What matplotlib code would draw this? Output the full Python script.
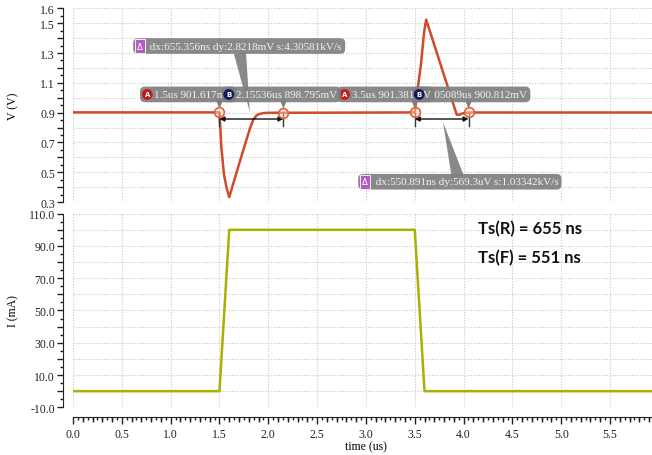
import matplotlib.pyplot as plt
import matplotlib
import numpy as np
from matplotlib.ticker import MultipleLocator, FuncFormatter

matplotlib.rcParams['font.family'] = 'Liberation Serif'
matplotlib.rcParams['font.size'] = 8.5

# voltage waveform, time in us, value in V
v_time = [0.0, 1.5, 1.51, 1.52, 1.547, 1.575, 1.60, 1.71, 1.81, 1.847, 1.875, 1.90, 1.95, 2.0, 2.155,
          3.5, 3.53, 3.562, 3.596, 3.617, 3.93, 3.96, 3.99, 4.05, 5.93]
v_volts = [0.9016, 0.9016, 0.78, 0.66, 0.48, 0.39, 0.333, 0.575, 0.79, 0.853, 0.878, 0.889, 0.897, 0.899, 0.8988,
           0.9014, 1.06, 1.215, 1.44, 1.524, 0.886, 0.886, 0.895, 0.9008, 0.9008]

# current waveform, time in us, value in mA
i_time = [0.0, 1.5, 1.6, 3.5, 3.6, 5.93]
i_ma = [0, 0, 100, 100, 0, 0]

# cursors
mark_time = [1.5, 2.15536, 3.5, 4.05089]
mark_volts = [0.901617, 0.898795, 0.901381, 0.900812]
mark_text = ['1.5us 901.617mV', '2.15536us 898.795mV', '3.5us 901.381mV', '4.05089us 900.812mV']
mark_icon = ['A', 'B', 'A', 'B']
delta_text = ['dx:655.356ns dy:2.8218mV s:4.30581kV/s', 'dx:550.891ns dy:569.3uV s:1.03342kV/s']
ts_text = ['Ts(R) = 655 ns', 'Ts(F) = 551 ns']

v_color = '#cf4b2c'
i_color = '#a8b000'
box_gray = '#7f7f7f'
grid_kw = dict(color='#c8c8c8', linestyle=(0, (1, 1.5)), linewidth=0.8)
off = 7  # spine offset in points

fig = plt.figure(figsize=(6.52, 4.56), dpi=100)
ax1 = fig.add_axes([0.112, 0.5548, 0.888, 0.4248])
ax2 = fig.add_axes([0.112, 0.1046, 0.888, 0.4246])

for ax in (ax1, ax2):
    for s in ('top', 'right'):
        ax.spines[s].set_visible(False)
    ax.spines['left'].set_position(('outward', off))
    ax.spines['left'].set_color('#222')
    ax.set_xlim(0, 5.93)
    ax.xaxis.set_major_locator(MultipleLocator(0.5))
    ax.xaxis.set_minor_locator(MultipleLocator(0.05))
    ax.grid(True, which='major', **grid_kw)
    ax.tick_params(axis='y', which='major', length=4, width=1, pad=2, colors='#222')
    ax.tick_params(axis='y', which='minor', length=2, width=1, colors='#222')
    ax.yaxis.set_label_coords(-0.092, 0.5)
    ax.set_axisbelow(True)

# top panel: voltage
ax1.plot(v_time, v_volts, color=v_color, lw=1.8, zorder=3)
ax1.set_ylim(0.3, 1.6)
ax1.yaxis.set_major_locator(MultipleLocator(0.1))
ax1.yaxis.set_minor_locator(MultipleLocator(0.05))
ax1.yaxis.set_major_formatter(FuncFormatter(
    lambda v, p: f'{v:.1f}' if round(v * 10) in (3, 5, 7, 9, 11, 13, 15, 16) else ''))
ax1.spines['bottom'].set_visible(False)
ax1.tick_params(axis='x', which='both', length=0, labelbottom=False)
ax1.set_ylabel('V (V)')

# bottom panel: current
ax2.plot(i_time, i_ma, color=i_color, lw=1.8, zorder=3)
ax2.set_ylim(-10, 110)
ax2.yaxis.set_major_locator(MultipleLocator(10))
ax2.yaxis.set_minor_locator(MultipleLocator(5))
ax2.yaxis.set_major_formatter(FuncFormatter(
    lambda v, p: f'{v:.1f}' if round(v) % 20 != 0 else ''))
ax2.spines['bottom'].set_position(('outward', off))
ax2.spines['bottom'].set_color('#222')
ax2.tick_params(axis='x', which='major', length=5, width=1, pad=3, colors='#222')
ax2.tick_params(axis='x', which='minor', length=2.2, width=1, colors='#222')
ax2.xaxis.set_major_formatter(FuncFormatter(lambda v, p: f'{v:.1f}'))
ax2.set_ylabel('I (mA)')
ax2.set_xlabel('time (us)')
ax2.xaxis.set_label_coords(0.506, -0.172)

# medium ticks every 0.1 us
ax_h = ax2.get_position().height * fig.get_figheight() * 72
for t in np.arange(0.1, 5.93, 0.1):
    if abs(t / 0.5 - round(t / 0.5)) < 1e-6:
        continue
    ax2.plot([t, t], [-off / ax_h, -(off + 3.6) / ax_h], color='#222', lw=1,
             transform=ax2.get_xaxis_transform(), clip_on=False, solid_capstyle='butt')

for k, txt in enumerate(ts_text):
    ax2.text(4.15, 101 - 18 * k, txt, family='Lato', weight='bold', fontsize=12,
             va='center', ha='left', color='#111')

# cursor labels
fs = 8
bbox_kw = dict(boxstyle='round,pad=0.3,rounding_size=0.45', fc=box_gray, ec='none', alpha=0.92)
label_x = [0.72, 1.56, 2.74, 4.65]
label_ha = ['left', 'left', 'left', 'right']
label_y = 1.022
label_z = [5, 8, 7, 6]
icon_x = [0.76, 1.595, 2.78, 3.545]
icon_z = [5.5, 8.5, 7.5, 7.5]
icon_fc = ['#c41a1a', '#161a5c', '#c41a1a', '#161a5c']
for k in range(4):
    ax1.text(label_x[k], label_y, '    ' + mark_text[k], ha=label_ha[k], va='center', fontsize=fs,
             color='#f2f2f2', bbox=bbox_kw, zorder=label_z[k])
    ax1.text(icon_x[k], label_y, mark_icon[k], ha='center', va='center', fontsize=5,
             weight='bold', color='white', family='DejaVu Sans',
             bbox=dict(boxstyle='circle,pad=0.35', fc=icon_fc[k], ec='none'), zorder=icon_z[k])
    ax1.annotate('', xy=(mark_time[k], 0.925), xytext=(mark_time[k], 0.985),
                 arrowprops=dict(arrowstyle='wedge,tail_width=0.6', fc=box_gray, ec='none',
                                 shrinkA=0, shrinkB=0), zorder=4)

ax1.plot(mark_time, mark_volts, 'o', ms=7, mfc=(1, 0.85, 0.75, 0.5), mec='#e0603a', mew=1.2, zorder=9)

# delta bars
for a, b in [(0, 1), (2, 3)]:
    ax1.annotate('', xy=(mark_time[a], 0.857), xytext=(mark_time[b], 0.857),
                 arrowprops=dict(arrowstyle='<|-|>', color='#111', lw=1, mutation_scale=7,
                                 shrinkA=0, shrinkB=0), zorder=4)
    for t in (mark_time[a], mark_time[b]):
        ax1.plot([t, t], [0.9, 0.81], color='#333', lw=1, zorder=4)

# delta labels, their pointers sit behind the cursor labels
delta_pos = [(0.65, 1.347), (2.955, 0.436)]
delta_icon = [0.686, 2.99]
delta_tip = [(1.81, 0.905), (3.79, 0.835)]
delta_base = [(1.71, 1.30), (3.94, 0.47)]
for k in range(2):
    ax1.annotate('', xy=delta_tip[k], xytext=delta_base[k], zorder=4,
                 arrowprops=dict(arrowstyle='wedge,tail_width=1.1', fc=box_gray, ec='none', alpha=0.92,
                                 shrinkA=0, shrinkB=0, mutation_scale=8))
    ax1.text(delta_pos[k][0], delta_pos[k][1], '     ' + delta_text[k], fontsize=fs,
             ha='left', va='center', color='#f2f2f2', bbox=bbox_kw, zorder=10)
    ax1.text(delta_icon[k], delta_pos[k][1], '\u0394', ha='center', va='center', fontsize=6,
             color='white', family='DejaVu Sans',
             bbox=dict(boxstyle='square,pad=0.3', fc='#b45cc6', ec='white', lw=0.6), zorder=11)

plt.savefig('out.png', dpi=100)
